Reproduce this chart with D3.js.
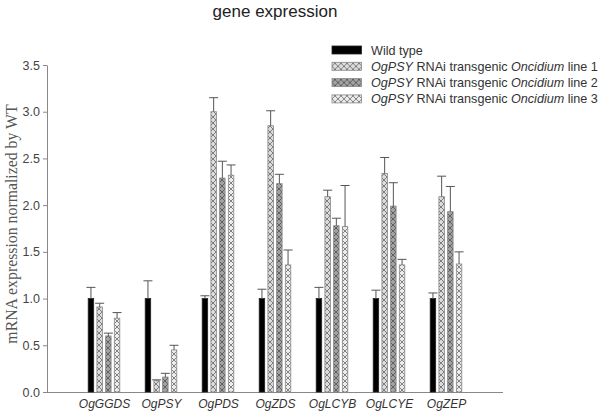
<!DOCTYPE html>
<html><head><meta charset="utf-8">
<script src="https://cdn.jsdelivr.net/npm/d3@7"></script>
<style>body{margin:0;background:#fff}svg{display:block}</style>
</head><body><svg id="c" width="600" height="414"></svg>
<script>
const categories = ["OgGGDS","OgPSY","OgPDS","OgZDS","OgLCYB","OgLCYE","OgZEP"];
const seriesNames = ["Wild type","line 1","line 2","line 3"];
const wildType = [1.0, 1.0, 1.0, 1.0, 1.0, 1.0, 1.0];
const wildTypeErr = [0.12, 0.19, 0.03, 0.10, 0.12, 0.09, 0.06];
const line1 = [0.91, 0.12, 3.00, 2.85, 2.09, 2.34, 2.09];
const line1Err = [0.04, 0.01, 0.15, 0.16, 0.07, 0.17, 0.22];
const line2 = [0.60, 0.16, 2.29, 2.23, 1.78, 1.99, 1.93];
const line2Err = [0.03, 0.04, 0.18, 0.10, 0.08, 0.25, 0.27];
const line3 = [0.79, 0.45, 2.32, 1.36, 1.77, 1.36, 1.37];
const line3Err = [0.06, 0.05, 0.11, 0.16, 0.44, 0.06, 0.13];
const yTicks = [0,0.5,1.0,1.5,2.0,2.5,3.0,3.5];
const title = "gene expression";
const yLabel = "mRNA expression normalized by WT";

const seriesVals = [wildType, line1, line2, line3];
const seriesErr = [wildTypeErr, line1Err, line2Err, line3Err];
const fills = ["#000000", "url(#p1)", "url(#p2)", "url(#p3)"];
const bgs = [null, "#dcdcdc", "#a2a2a2", "#ececec"];

const svg = d3.select("#c");
const defs = svg.append("defs");
[1,2,3].forEach(i => {
  const p = defs.append("pattern").attr("id","p"+i).attr("patternUnits","userSpaceOnUse")
    .attr("width",6).attr("height",6);
  p.append("rect").attr("width",6).attr("height",6).attr("fill",bgs[i]);
  p.append("path").attr("d","M0,0L6,6M6,0L0,6").attr("stroke", i===2 ? "#444" : "#555")
    .attr("stroke-width",0.7).attr("fill","none");
});

const x = d3.scalePoint().domain(categories).range([47,503]).padding(1);
const xi = d3.scaleBand().domain(d3.range(4)).range([-15.8,15.8]).paddingInner(0.37);
const y = d3.scaleLinear().domain([0,3.5]).range([392,65]);

// axes
const ya = svg.append("g").attr("transform","translate(47,0)")
  .call(d3.axisLeft(y).tickValues(yTicks).tickFormat(d3.format(".1f")).tickSize(4).tickSizeOuter(0).tickPadding(3));
ya.select(".domain").attr("stroke","#888");
ya.selectAll(".tick line").attr("stroke","#888");
ya.selectAll("text").attr("font-family","Liberation Sans, Arial, sans-serif").attr("font-size",12.5).attr("fill","#444");

const xa = svg.append("g").attr("transform","translate(0,392)")
  .call(d3.axisBottom(x).tickSize(0).tickPadding(7.5).tickSizeOuter(0));
xa.select(".domain").attr("stroke","#888").attr("d","M47,0.5H503");
xa.selectAll("text").attr("font-family","Liberation Sans, Arial, sans-serif").attr("font-size",12)
  .attr("font-style","italic").attr("fill","#333");

// bars
const data = [];
categories.forEach((c,ci) => seriesVals.forEach((s,si) => data.push({c, si, v:s[ci], e:seriesErr[si][ci]})));
const g = svg.append("g");
g.selectAll("rect.bar").data(data).join("rect").attr("class","bar")
  .attr("x", d => x(d.c) + xi(d.si))
  .attr("width", xi.bandwidth())
  .attr("y", d => y(d.v))
  .attr("height", d => y(0) - y(d.v))
  .attr("fill", d => fills[d.si])
  .attr("stroke", d => d.si===0 ? "#222" : "#888").attr("stroke-width",0.8);

// error bars
const eb = g.selectAll("g.err").data(data).join("g").attr("class","err")
  .attr("stroke", "#555").attr("stroke-width",1);
eb.append("line")
  .attr("x1", d => x(d.c) + xi(d.si) + xi.bandwidth()/2)
  .attr("x2", d => x(d.c) + xi(d.si) + xi.bandwidth()/2)
  .attr("y1", d => y(d.v)).attr("y2", d => y(d.v + d.e));
eb.append("line")
  .attr("x1", d => x(d.c) + xi(d.si) + xi.bandwidth()/2 - 4.5)
  .attr("x2", d => x(d.c) + xi(d.si) + xi.bandwidth()/2 + 4.5)
  .attr("y1", d => y(d.v + d.e)).attr("y2", d => y(d.v + d.e));

// title
svg.append("text").attr("x",275).attr("y",17).attr("text-anchor","middle")
  .attr("font-family","Liberation Sans, Arial, sans-serif").attr("font-size",17).attr("fill","#222").text(title);

// y label
svg.append("text").attr("transform","translate(17,224) rotate(-90)").attr("text-anchor","middle")
  .attr("font-family","Liberation Serif, Times New Roman, serif").attr("font-size",15.8).attr("fill","#555").text(yLabel);

// legend
const lg = svg.append("g");
const rows = lg.selectAll("g").data(seriesNames).join("g")
  .attr("transform",(d,i) => `translate(332,${50 + i*16.3})`);
rows.append("rect").attr("x",0).attr("y",-4).attr("width",29.5).attr("height",8)
  .attr("fill",(d,i)=>fills[i]).attr("stroke",(d,i)=> i===0 ? "#222" : "#888").attr("stroke-width",0.8);
rows.each(function(d,i){
  const t = d3.select(this).append("text").attr("x",39).attr("y",4.5)
    .attr("font-family","Liberation Sans, Arial, sans-serif").attr("font-size",12.6).attr("fill","#333");
  if(i===0){ t.text(d); }
  else {
    t.append("tspan").attr("font-style","italic").text("OgPSY");
    t.append("tspan").text(" RNAi transgenic ");
    t.append("tspan").attr("font-style","italic").text("Oncidium");
    t.append("tspan").text(" " + d);
  }
});
</script></body></html>
